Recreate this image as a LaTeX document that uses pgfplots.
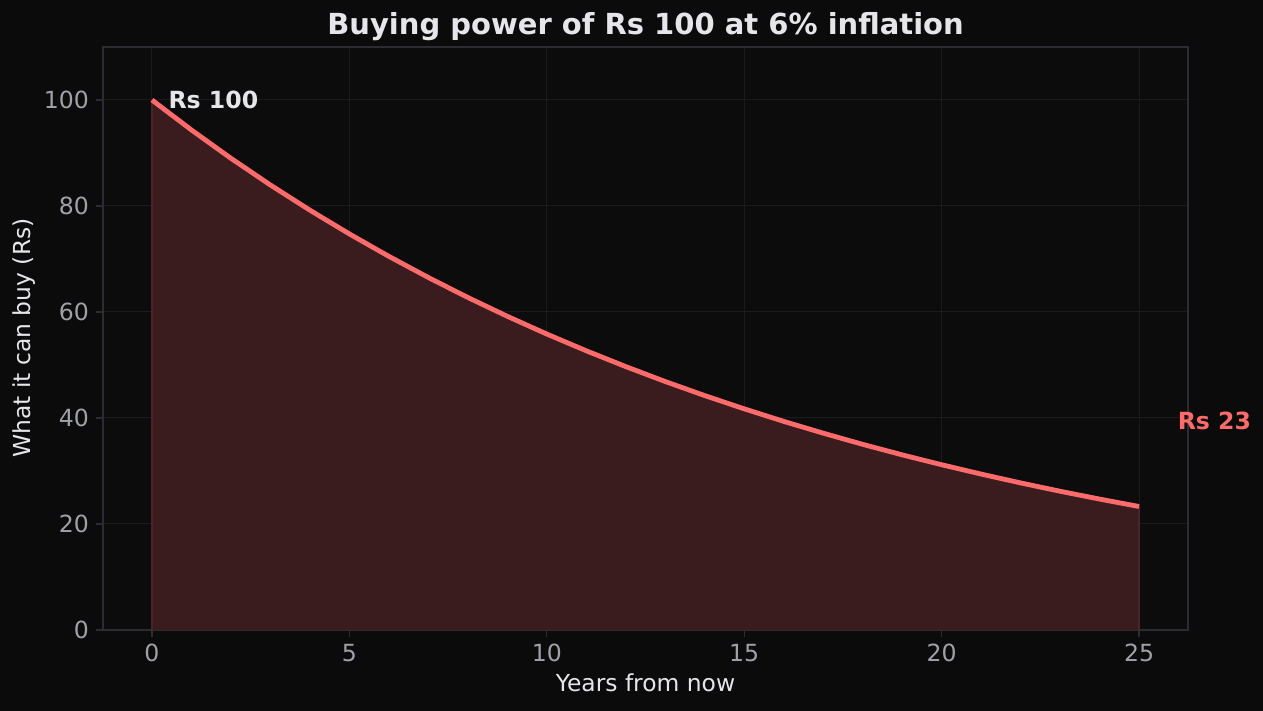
\documentclass[border=0pt]{standalone}
\usepackage{pgfplots}
\pgfplotsset{compat=1.18}
\usepackage{fontspec}
\setmainfont{DejaVu Sans}
\definecolor{bg}{HTML}{0B0B0B}
\definecolor{axbg}{HTML}{0C0C0C}
\definecolor{spine}{HTML}{2C2C32}
\definecolor{gridc}{HTML}{1B1B1D}
\definecolor{ticklab}{HTML}{A0A0A8}
\definecolor{labc}{HTML}{E6E6EA}
\definecolor{linec}{HTML}{FF6B6B}
\definecolor{fillc}{HTML}{3A1C1F}
\definecolor{edgec}{HTML}{4A2428}
\pgfplotstableread{
t v
0 100.00
1 94.34
2 89.00
3 83.96
4 79.21
5 74.73
6 70.50
7 66.51
8 62.74
9 59.19
10 55.84
11 52.68
12 49.70
13 46.88
14 44.23
15 41.73
16 39.36
17 37.14
18 35.03
19 33.05
20 31.18
21 29.42
22 27.75
23 26.18
24 24.70
25 23.30
}\datatable
\begin{document}
\begin{tikzpicture}
\fill[bg] (0,0) rectangle (631.5pt,355.5pt);
\begin{axis}[
  at={(51.5pt,40.5pt)}, anchor=south west,
  scale only axis, width=542.5pt, height=291.5pt,
  xmin=-1.24, xmax=26.24, ymin=0, ymax=110,
  xtick={0,5,...,25}, ytick={0,20,...,100},
  axis background/.style={fill=axbg},
  axis line style={spine, line width=0.6pt},
  major tick style={spine, line width=0.6pt},
  tick align=outside, major tick length=3.5pt,
  xtick pos=bottom, ytick pos=left,
  grid=major, major grid style={gridc, line width=0.5pt},
  tick label style={font=\fontsize{11.8}{14}\selectfont, text=ticklab},
  /pgf/number format/assume math mode=true,
  clip=false,
]
\addplot[draw=none, fill=fillc] table[x=t,y=v]{\datatable} \closedcycle;
\addplot[edgec, line width=0.6pt] coordinates {(0,0) (0,100)};
\addplot[edgec, line width=0.6pt] coordinates {(25,0) (25,23.3)};
\addplot[linec, line width=2.4pt, line join=round] table[x=t,y=v]{\datatable};
\node[anchor=west, inner sep=0pt, text=labc, font=\fontsize{11.8}{14}\selectfont\bfseries] at (axis cs:0.41,100) {Rs 100};
\node[anchor=west, inner sep=0pt, text=linec, font=\fontsize{11.8}{14}\selectfont\bfseries] at (axis cs:25.97,39.4) {Rs 23};
\end{axis}
\node[text=labc, font=\fontsize{14.5}{17}\selectfont\bfseries] at (322.75pt,342pt) {Buying power of Rs 100 at 6\% inflation};
\node[text=labc, font=\fontsize{11.7}{14}\selectfont] at (322.75pt,14pt) {Years from now};
\node[text=labc, font=\fontsize{11.7}{14}\selectfont, rotate=90] at (12pt,186.5pt) {What it can buy (Rs)};
\end{tikzpicture}
\end{document}
